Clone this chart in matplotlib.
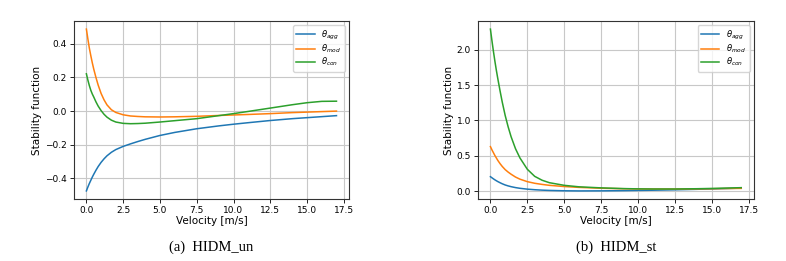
import matplotlib
matplotlib.use("Agg")
import matplotlib.pyplot as plt

velocity = [0, 0.1, 0.2, 0.3, 0.4, 0.5, 0.65, 0.8, 1.0, 1.2, 1.4, 1.7, 2.0, 2.5,
            3.0, 3.5, 4.0, 5.0, 6.0, 7.5, 9.0, 10.0, 11.0, 12.5, 14.0, 15.0, 16.0, 17.0]

# (a) HIDM_un
un_agg = [-0.475, -0.452, -0.431, -0.412, -0.393, -0.376, -0.352, -0.330, -0.305,
          -0.284, -0.266, -0.245, -0.229, -0.21, -0.195, -0.181, -0.168, -0.145,
          -0.127, -0.105, -0.088, -0.078, -0.069, -0.056, -0.045, -0.039, -0.033, -0.027]
un_mod = [0.488, 0.43, 0.375, 0.33, 0.288, 0.25, 0.20, 0.155, 0.105, 0.067, 0.037,
          0.008, -0.008, -0.022, -0.029, -0.032, -0.034, -0.035, -0.034, -0.031,
          -0.026, -0.023, -0.02, -0.015, -0.009, -0.006, -0.003, 0.0]
un_con = [0.222, 0.185, 0.152, 0.124, 0.102, 0.084, 0.055, 0.03, 0.003, -0.019,
          -0.036, -0.054, -0.065, -0.073, -0.075, -0.074, -0.072, -0.065, -0.057,
          -0.045, -0.027, -0.015, -0.002, 0.018, 0.038, 0.05, 0.058, 0.059]

# (b) HIDM_st
st_agg = [0.205, 0.19, 0.175, 0.161, 0.148, 0.136, 0.12, 0.105, 0.088, 0.075, 0.064,
          0.051, 0.041, 0.029, 0.021, 0.015, 0.011, 0.006, 0.004, 0.005, 0.008,
          0.011, 0.014, 0.02, 0.027, 0.032, 0.038, 0.044]
st_mod = [0.63, 0.585, 0.545, 0.505, 0.47, 0.435, 0.39, 0.35, 0.305, 0.27, 0.24,
          0.20, 0.17, 0.135, 0.112, 0.096, 0.083, 0.066, 0.054, 0.042, 0.035, 0.032,
          0.031, 0.031, 0.033, 0.035, 0.038, 0.04]
st_con = [2.29, 2.13, 1.98, 1.84, 1.71, 1.59, 1.42, 1.26, 1.07, 0.91, 0.77, 0.60,
          0.47, 0.31, 0.21, 0.155, 0.12, 0.083, 0.062, 0.047, 0.037, 0.033, 0.031,
          0.031, 0.035, 0.039, 0.044, 0.05]

labels = [r'$\theta_{agg}$', r'$\theta_{mod}$', r'$\theta_{con}$']
captions = ['(a)  HIDM_un', '(b)  HIDM_st']

fig = plt.figure(figsize=(7.86, 2.61), dpi=100)
ax_a = fig.add_axes([0.094, 0.2375, 0.350, 0.682])
ax_b = fig.add_axes([0.608, 0.2375, 0.351, 0.682])

panels = [(ax_a, [un_agg, un_mod, un_con]), (ax_b, [st_agg, st_mod, st_con])]
for i, (ax, series) in enumerate(panels):
    for values, label in zip(series, labels):
        ax.plot(velocity, values, label=label, linewidth=1.1)
    ax.grid(True, color='#c8c8c8', linewidth=0.8)
    ax.set_xticks([0, 2.5, 5, 7.5, 10, 12.5, 15, 17.5])
    ax.tick_params(labelsize=6.5, length=3, width=0.6, pad=2)
    for sp in ax.spines.values():
        sp.set_linewidth(0.8)
        sp.set_color('#333333')
    ax.set_xlabel('Velocity [m/s]', fontsize=7.5, labelpad=1)
    ax.set_ylabel('Stability function', fontsize=7.5, labelpad=2)
    ax.legend(loc='upper right', fontsize=6, handlelength=2.2, labelspacing=0.1,
              borderpad=0.4, framealpha=0.8)
    pos = ax.get_position()
    fig.text((pos.x0 + pos.x1) / 2, 0.025, captions[i], ha='center', va='bottom',
             fontsize=10.5, family='Liberation Serif')

ax_b.set_yticks([0, 0.5, 1.0, 1.5, 2.0])

fig.savefig('out.png', dpi=100)
